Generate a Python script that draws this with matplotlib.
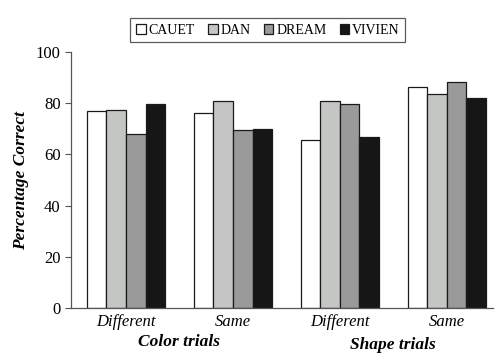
import matplotlib
matplotlib.use("Agg")
import matplotlib.pyplot as plt
import numpy as np

plt.rcParams['font.family'] = ['Liberation Serif', 'DejaVu Serif']

conditions = ["Different", "Same", "Different", "Same"]
trial_types = ["Color trials", "Shape trials"]
names = ["CAUET", "DAN", "DREAM", "VIVIEN"]
cauet = [77, 76, 65.5, 86.2]
dan = [77.3, 81, 81, 83.8]
dream = [68, 69.5, 79.6, 88.3]
vivien = [79.8, 70, 67, 82]
colors = ["#ffffff", "#c4c6c4", "#9a9a9a", "#161616"]

fig = plt.figure(figsize=(4.95, 3.55), dpi=100)
ax = fig.add_axes([0.1434, 0.1324, 0.852, 0.721])

x = np.arange(len(conditions))
w = 0.183
for i, (vals, c) in enumerate(zip([cauet, dan, dream, vivien], colors)):
    ax.bar(x + (i - 1.5) * w, vals, w, color=c, edgecolor="#1a1a1a", linewidth=0.9, label=names[i])

ax.set_ylim(0, 100)
ax.set_xlim(-0.515, 3.43)
ax.set_yticks([0, 20, 40, 60, 80, 100])
ax.set_xticks(x)
ax.set_xticklabels(conditions, fontstyle="italic", fontsize=12)
ax.tick_params(axis="x", length=0, pad=4)
ax.tick_params(axis="y", labelsize=12, length=4, width=0.8, color="#555555")
for s in ["top", "right"]:
    ax.spines[s].set_visible(False)
for s in ["left", "bottom"]:
    ax.spines[s].set_color("#555555")
    ax.spines[s].set_linewidth(0.9)

ax.set_ylabel("Percentage Correct", fontstyle="italic", fontweight="bold", fontsize=12.5, labelpad=5)

ax.text(0.5, -0.1, trial_types[0], transform=ax.get_xaxis_transform(), ha="center", va="top",
        fontstyle="italic", fontweight="bold", fontsize=12.5)
ax.text(2.5, -0.115, trial_types[1], transform=ax.get_xaxis_transform(), ha="center", va="top",
        fontstyle="italic", fontweight="bold", fontsize=12.5)

leg = fig.legend(loc="upper center", bbox_to_anchor=(0.541, 0.968), ncol=4, fontsize=10,
                 frameon=True, fancybox=False, edgecolor="#333333", handlelength=0.7,
                 handleheight=0.7, handletextpad=0.2, columnspacing=0.95, borderpad=0.4)
leg.get_frame().set_linewidth(0.9)

fig.savefig("out.png", dpi=100)
